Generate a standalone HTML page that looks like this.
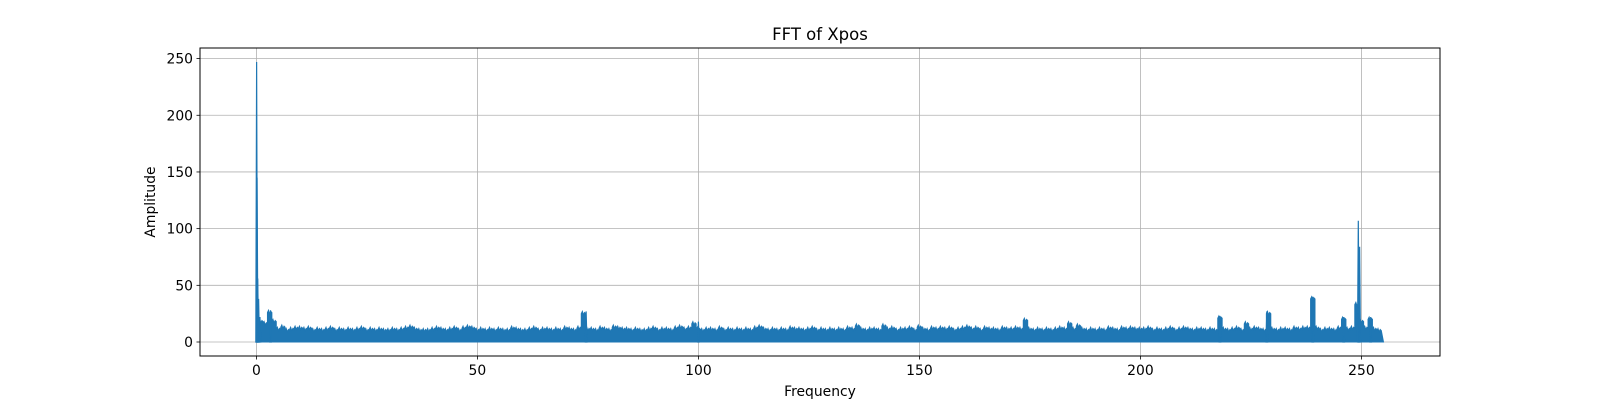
<!DOCTYPE html>
<html><head><meta charset="utf-8"><style>
body{margin:0;background:#fff;}
svg{display:block;font-family:"DejaVu Sans","Liberation Sans",sans-serif;}
</style></head><body>
<svg id="chart" width="1600" height="400" viewBox="0 0 1600 400">
<rect width="1600" height="400" fill="#fff"/>
<g id="grid"></g>
<g id="marks"></g>
<rect x="200" y="48" width="1240" height="308" fill="none" stroke="#000" stroke-width="1"/>
<g id="ticks"></g>
<text x="820" y="40" text-anchor="middle" font-size="16.5">FFT of Xpos</text>
<text x="820" y="396" text-anchor="middle" font-size="13.9">Frequency</text>
<text transform="translate(155,202) rotate(-90)" text-anchor="middle" font-size="13.9">Amplitude</text>
</svg>
<script>
const xTicks=[0,50,100,150,200,250];
const yTicks=[0,50,100,150,200,250];
// per-1Hz noise-floor envelope (bins 1..254)
const baseBins=[
20,18,28,20,13,15,12,13,14,14,13,14,12,13,12,13,14,12,13,12,
13,12,13,14,12,13,12,13,12,12,13,12,13,14,15,13,12,12,12,13,
14,13,12,13,14,12,14,15,14,12,13,12,13,12,13,12,12,14,13,12,
12,13,14,12,13,13,12,13,12,14,13,12,14,27,13,13,12,14,13,12,
15,14,13,13,12,13,12,12,13,14,12,13,13,12,14,15,13,14,18,13,
12,13,13,12,14,12,13,12,13,12,13,12,14,15,13,12,13,12,13,12,
14,13,13,12,13,14,12,13,12,13,12,13,12,14,13,16,13,12,13,13,
12,16,13,14,12,13,13,14,12,15,13,12,14,13,14,13,14,12,13,14,
15,13,14,12,14,13,13,12,14,13,13,14,13,21,13,12,13,12,13,12,
13,14,13,18,13,16,13,12,13,12,13,12,14,13,12,14,13,14,13,13,
13,14,12,13,12,13,14,12,13,14,13,12,13,13,12,13,12,23,13,12,
13,14,12,18,13,14,13,12,27,13,12,13,13,12,14,13,14,14,40,14,
12,13,13,12,14,22,13,14,35,20,14,22,13,12];
// narrow spikes: frequency and amplitude
const spikeFreqs=[0.05,0.15,0.3,0.5,0.8,3.2,74.6,100,218,228.6,239,246,249.3,249.6,252.1];
const spikeAmps=[247,145,56,38,22,28,27,18,23,27,40,22,107,84,22];
const fMax=255;
const X0=256.4, XS=4.42, Y0=342, YS=1.1336;
const xs=f=>X0+f*XS, ys=a=>Y0-a*YS;
const NS='http://www.w3.org/2000/svg';
const grid=document.getElementById('grid'), ticks=document.getElementById('ticks'), marks=document.getElementById('marks');
function mk(tag,attrs,parent){const e=document.createElementNS(NS,tag);for(const k in attrs)e.setAttribute(k,attrs[k]);parent.appendChild(e);return e;}
xTicks.forEach(t=>{
  const x=xs(t);
  const g=mk('line',{x1:x,x2:x,y1:48,y2:356,stroke:'#b0b0b0','stroke-width':0.8},grid);
  
  
  mk('line',{x1:x,x2:x,y1:356,y2:359.5,stroke:'#000','stroke-width':0.8},ticks);
  const l=mk('text',{x:x,y:375,'text-anchor':'middle','font-size':13.9},ticks);
  l.textContent=t;
  
  
});
yTicks.forEach(t=>{
  const y=ys(t);
  const g=mk('line',{x1:200,x2:1440,y1:y,y2:y,stroke:'#b0b0b0','stroke-width':0.8},grid);
  
  
  mk('line',{x1:196.5,x2:200,y1:y,y2:y,stroke:'#000','stroke-width':0.8},ticks);
  const l=mk('text',{x:193,y:y+5,'text-anchor':'end','font-size':13.9},ticks);
  l.textContent=t;
  
  
});
let d='M'+xs(0)+','+ys(0);
baseBins.forEach((v,i)=>{
  const f0=i+0.5, f1=Math.min(i+1.5,fMax);
  d+=' L'+xs(f0)+','+ys(v-2)+' L'+xs(f0+0.25)+','+ys(v)+' L'+xs(f0+0.5)+','+ys(v-3)+' L'+xs(f0+0.75)+','+ys(v-1)+' L'+xs(f1)+','+ys(v-2);
});
d+=' L'+xs(fMax)+','+ys(0)+' Z';
const area=mk('path',{d:d,fill:'#1f77b4',stroke:'#1f77b4','stroke-width':1},marks);


spikeFreqs.forEach((f,i)=>{
  const a=spikeAmps[i];
  const p=mk('path',{d:'M'+(xs(f)-0.8)+','+ys(0)+' L'+xs(f)+','+ys(a)+' L'+(xs(f)+0.8)+','+ys(0)+' Z',fill:'#1f77b4',stroke:'#1f77b4','stroke-width':1.2},marks);
  
  
});
</script>
</body></html>
